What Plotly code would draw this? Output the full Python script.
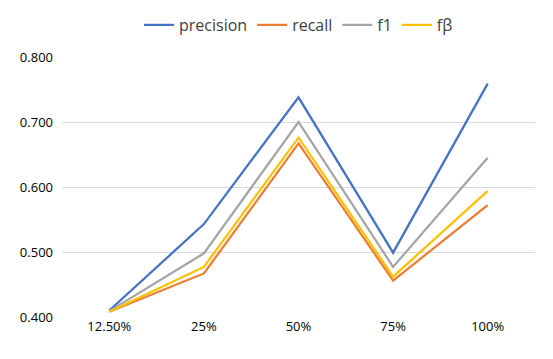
import plotly.graph_objects as go

categories = ["12.50%", "25%", "50%", "75%", "100%"]
precision = [0.410, 0.543, 0.738, 0.499, 0.759]
recall = [0.408, 0.467, 0.667, 0.456, 0.572]
f1 = [0.409, 0.498, 0.700, 0.477, 0.645]
fbeta = [0.408, 0.477, 0.676, 0.462, 0.594]

series = [
    ("precision", precision, "#4472C4"),
    ("recall", recall, "#ED7D31"),
    ("f1", f1, "#A5A5A5"),
    ("fβ", fbeta, "#FFC000"),
]

fig = go.Figure()
for name, vals, color in series:
    fig.add_trace(go.Scatter(
        x=categories,
        y=vals,
        mode="lines",
        name=name,
        line=dict(color=color, width=2.25),
    ))

# the page body adds an 8px margin, so the figure is 8px smaller
fig.update_layout(
    width=545,
    height=351,
    margin=dict(l=54, r=18, t=49, b=42, autoexpand=False),
    paper_bgcolor="white",
    plot_bgcolor="white",
    font=dict(family="Open Sans", color="#000000", size=13),
    legend=dict(
        orientation="h",
        yref="container",
        x=0.5, xanchor="center",
        y=1.0, yanchor="top",
        font=dict(size=16, color="#404040"),
        itemwidth=30,
    ),
    xaxis=dict(
        type="category",
        range=[-0.5, 4.5],
        showgrid=False,
        showline=False,
        ticks="",
        tickfont=dict(size=13),
    ),
    yaxis=dict(
        range=[0.4, 0.8],
        dtick=0.1,
        tickformat=".3f",
        showgrid=True,
        gridcolor="#D9D9D9",
        gridwidth=1,
        zeroline=False,
        showline=False,
        ticks="",
        ticklabelstandoff=8,
        tickfont=dict(size=13),
    ),
)

fig.write_html("out.html")
